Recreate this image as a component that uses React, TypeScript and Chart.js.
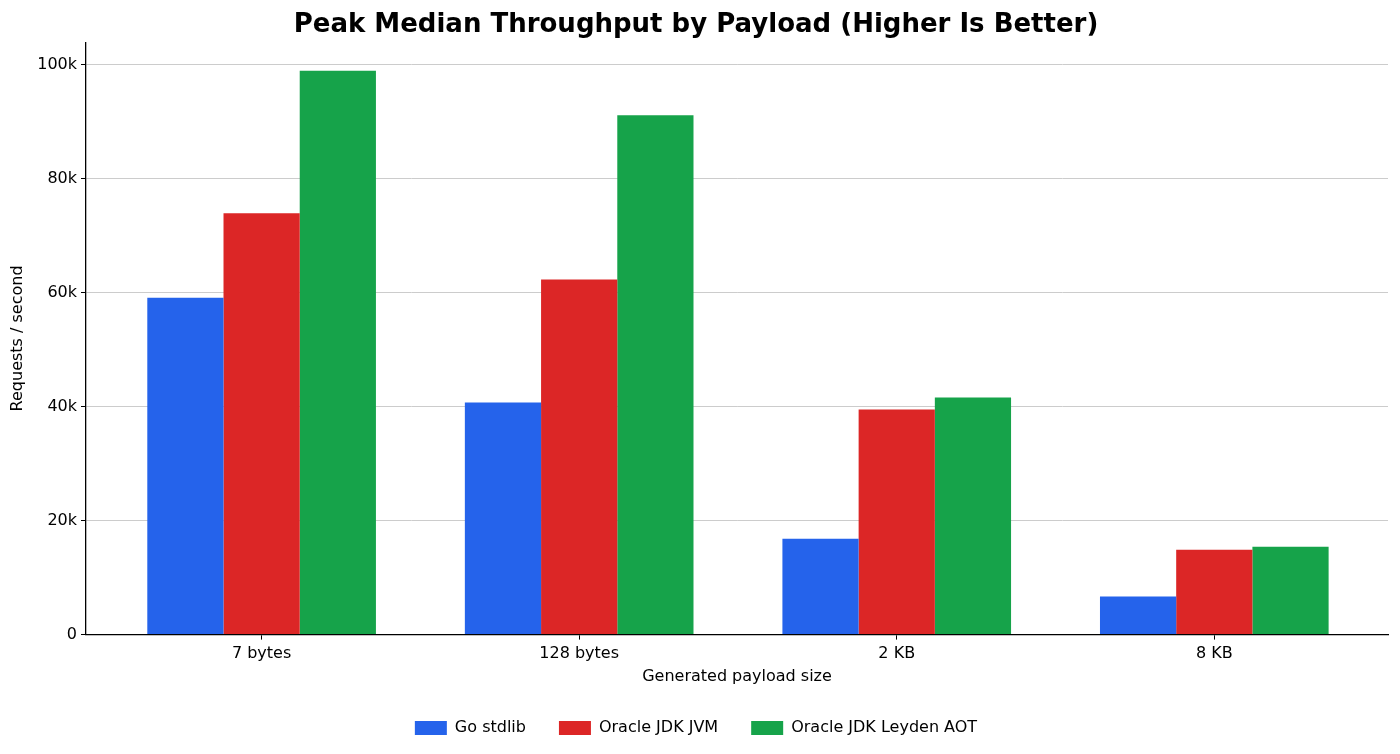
import { Chart, registerables } from "chart.js";
import { useEffect, useRef } from "react";

Chart.register(...registerables);

const payloads = ["7 bytes", "128 bytes", "2 KB", "8 KB"];
const goStdlib = [59100, 40700, 16800, 6700];
const jdkJvm = [73900, 62300, 39500, 14900];
const jdkLeyden = [98900, 91100, 41600, 15400];
const yTicks = [0, 20000, 40000, 60000, 80000, 100000];

const FONT = "'DejaVu Sans', sans-serif";

export default function App() {
  const canvasRef = useRef<HTMLCanvasElement>(null);

  useEffect(() => {
    document.body.style.margin = "0";
    const ctx = canvasRef.current?.getContext("2d");
    if (!ctx) return;

    const toPoints = (vals: number[]) => vals.map((y, i) => ({ x: i, y }));

    const chart = new Chart(ctx, {
      type: "bar",
      data: {
        datasets: [
          { label: "Go stdlib", data: toPoints(goStdlib), backgroundColor: "#2563eb" },
          { label: "Oracle JDK JVM", data: toPoints(jdkJvm), backgroundColor: "#dc2626" },
          { label: "Oracle JDK Leyden AOT", data: toPoints(jdkLeyden), backgroundColor: "#16a34a" },
        ],
      },
      options: {
        responsive: false,
        animation: false,
        layout: { padding: { left: 4, right: 12, top: 6, bottom: 8 } },
        datasets: { bar: { categoryPercentage: 0.72, barPercentage: 1.0, borderWidth: 0 } },
        plugins: {
          tooltip: { enabled: false },
          title: {
            display: true,
            text: "Peak Median Throughput by Payload (Higher Is Better)",
            font: { family: FONT, size: 26, weight: "bold" },
            color: "#000",
            padding: { top: 4, bottom: 1 },
          },
          legend: {
            position: "bottom",
            labels: {
              font: { family: FONT, size: 16 },
              color: "#000",
              boxWidth: 32,
              boxHeight: 14,
              padding: 33,
            },
          },
        },
        scales: {
          x: {
            type: "linear",
            offset: false,
            min: -0.553,
            max: 3.547,
            afterBuildTicks: (axis) => {
              axis.ticks = payloads.map((_, i) => ({ value: i }));
            },
            ticks: {
              font: { family: FONT, size: 16 },
              color: "#000",
              autoSkip: false,
              maxRotation: 0,
              padding: 5,
              callback: (v) => payloads[Number(v)] ?? "",
            },
            grid: { offset: false, drawOnChartArea: false, drawTicks: true, tickLength: 5, tickColor: "#000" },
            border: { color: "#000", width: 1.3 },
            title: {
              display: true,
              text: "Generated payload size",
              font: { family: FONT, size: 16 },
              color: "#000",
              padding: { top: -2, bottom: 1 },
            },
          },
          y: {
            min: 0,
            max: 103900,
            z: 1,
            afterBuildTicks: (axis) => {
              axis.ticks = yTicks.map((v) => ({ value: v }));
            },
            ticks: {
              font: { family: FONT, size: 16 },
              color: "#000",
              padding: 4,
              callback: (v) => (Number(v) === 0 ? "0" : `${Number(v) / 1000}k`),
            },
            grid: { color: "#cccccc", lineWidth: 1, tickLength: 5, tickColor: "#000" },
            border: { color: "#000", width: 1.3 },
            title: {
              display: true,
              text: "Requests / second",
              font: { family: FONT, size: 16 },
              color: "#000",
              padding: { bottom: 6 },
            },
          },
        },
      },
    });

    return () => chart.destroy();
  }, []);

  return (
    <div style={{ width: 1400, height: 754, background: "#fff" }}>
      <canvas ref={canvasRef} width={1400} height={754} />
    </div>
  );
}
